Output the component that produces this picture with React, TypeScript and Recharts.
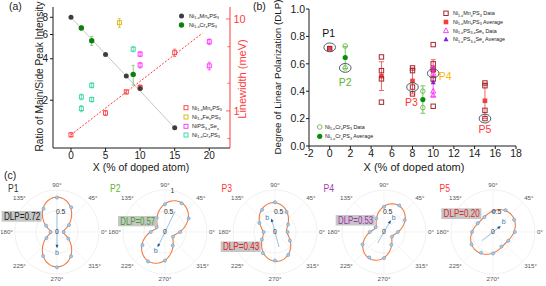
import React from 'react';
import { ComposedChart, Scatter, Line, XAxis, YAxis, ErrorBar, Legend } from 'recharts';

const FONT = '"Liberation Sans", Arial, Helvetica, sans-serif';
const RED = '#ff3b3b';
const INK = '#1a1a1a';

// ---------- (a) main/side peak ratio (left, log) and PL linewidth (right, log) ----------
const mnDoping = [0, 5, 8, 10, 15];
const mnPeakRatio = [8.0, 4.3, 3.0, 2.43, 1.26];
const crDoping = [1.5, 3, 9];
const crPeakRatio = [6.7, 5.4, 3.08];
const crPeakRatioErr = [0.25, 0.4, 0.5];
const ratioFitX = [0, 15];
const ratioFitY = [8.0, 1.26];

const mnLinewidth = [0.55, 0.95, 1.61, 1.8, 4.3];
const mnLinewidthErr = [0.03, 0.06, 0.08, 0.12, 0.4];
const feDoping = [7];
const feLinewidth = [9.1];
const feLinewidthErr = [1.0];
const seDoping = [10, 10, 20, 20];
const seLinewidth = [4.15, 3.15, 5.66, 3.09];
const seLinewidthErr = [0.25, 0.22, 0.4, 0.3];
const crLwDoping = [1.5, 1.5, 3, 3, 9];
const crLinewidth = [1.42, 1.06, 1.9, 1.33, 4.7];
const crLinewidthErr = [0.1, 0.08, 0.12, 0.08, 0.3];
const lwTrendX = [0, 19];
const lwTrendY = [0.55, 7.0];

const dopingTicksA = [0, 5, 10, 15, 20];
const ratioTicks = [2, 4, 6, 8];
const lwTicks = [0.5, 0.6, 0.7, 0.8, 0.9, 1, 2, 3, 4, 5, 6, 7, 8, 9, 10];

// ---------- (b) degree of linear polarization ----------
const mnDlpX = [0, 5, 5, 5, 5, 8, 8, 8, 8, 10, 10, 10, 10, 10, 15, 15, 15, 15];
const mnDlp = [0.71, 0.65, 0.55, 0.49, 0.32, 0.57, 0.55, 0.43, 0.38, 0.74, 0.6, 0.56, 0.49, 0.29, 0.46, 0.44, 0.26, 0.2];
const mnAvgX = [0, 5, 8, 10, 15];
const mnAvgDlp = [0.715, 0.51, 0.475, 0.55, 0.33];
const mnAvgErr = [0, 0.105, 0.095, 0.08, 0.13];
const seDlpX = [10, 10, 10, 10];
const seDlp = [0.57, 0.53, 0.4, 0.37];
const seAvgX = [10];
const seAvgDlp = [0.465];
const seAvgErr = [0.105];
const crDlpX = [1.5, 1.5, 9, 9];
const crDlp = [0.73, 0.57, 0.4, 0.28];
const crAvgX = [1.5, 9];
const crAvgDlp = [0.646, 0.339];
const crAvgErr = [0.08, 0.1];
const highlightX = [0, 1.5, 8, 10, 15];
const dopingTicksB = [-2, 0, 2, 4, 6, 8, 10, 12, 14, 16, 18];
const dlpTicks = [0, 0.2, 0.4, 0.6, 0.8, 1.0];

// ---------- (c) polar PL intensity ----------
const polarNames = ['P1', 'P2', 'P3', 'P4', 'P5'];
const polarDlp = [0.72, 0.57, 0.43, 0.53, 0.2];
const fitAxisDeg = [90, 62, 95, 62, 45];
const fitPeak = [0.83, 0.8, 0.7, 0.72, 0.6];
const sampleAngles = [0, 30, 60, 90, 120, 150, 180, 210, 240, 270, 300, 330];
const intensityP1 = [0.16, 0.33, 0.68, 0.82, 0.64, 0.3, 0.15, 0.29, 0.66, 0.84, 0.67, 0.31];
const intensityP2 = [0.36, 0.65, 0.79, 0.66, 0.39, 0.23, 0.34, 0.62, 0.81, 0.68, 0.37, 0.22];
const intensityP3 = [0.3, 0.36, 0.55, 0.71, 0.61, 0.43, 0.27, 0.36, 0.58, 0.68, 0.63, 0.41];
const intensityP4 = [0.33, 0.57, 0.73, 0.6, 0.37, 0.23, 0.34, 0.59, 0.7, 0.62, 0.35, 0.22];
const intensityP5 = [0.52, 0.58, 0.6, 0.49, 0.41, 0.42, 0.5, 0.59, 0.57, 0.51, 0.4, 0.42];
const intensities = [intensityP1, intensityP2, intensityP3, intensityP4, intensityP5];
const bAxisDeg = [270, 244, 105, 60, 38];
const bHeadR = [0.35, 0.37, 0.3, 0.29, 0.2];
const bTailR = [0.45, 0.55, 0.37, 0.3, 0.34];
const thetaTicks = [0, 45, 90, 135, 180, 225, 270, 315];

// ---------- styling / layout ----------
const pColors = ['#111111', '#5cb531', '#ff3636', '#ffb400', '#ff3636'];
const pTitleColors = ['#333333', '#5cb531', '#ff3636', '#a23bb5', '#ff3636'];
const dlpTextColors = ['#222222', '#3f9f2a', '#e02222', '#a030b0', '#dd2a2a'];
const pLabelOffset = [[-1, -14], [0, 14], [-1, 15], [12, 3], [0, 10.5]];
const bLabelOffset = [[0, 6], [-2.5, 4.5], [-4.5, -2], [3.5, -3.5], [4, -5]];
const polarCx = [57, 165, 275, 384, 493];
const polarCy = 232;
const POLAR_PX = 42;
const POLAR_BOX = 112;
const pTitleX = [8, 110, 221.5, 323.5, 439.5];
const dlpBox = [
  [1.7, 211, 40, 10.7],
  [118, 216, 38.7, 10.3],
  [220.7, 241.5, 40, 10.5],
  [335.7, 215, 39, 10.5],
  [441.3, 208.3, 40, 10.7],
];

const pts = (xs: number[], ys: number[], es?: number[]) =>
  xs.map((x, i) => ({ x, y: ys[i], e: es ? es[i] : 0 }));

// chemical formula with subscripts: "Ni_{1-x}Mn_{x}PS_{3}"
function Formula({ text, x, y, size, fill }: any) {
  const parts = text.split(/(_\{[^}]*\})/).filter((s: string) => s.length > 0);
  const sh = size * 0.3;
  let low = false;
  return (
    <text x={x} y={y} fontSize={size} fill={fill} fontFamily={FONT}>
      {parts.map((p: string, k: number) => {
        if (p.startsWith('_{')) {
          const el = (
            <tspan key={k} dy={low ? 0 : sh} fontSize={size * 0.68}>
              {p.slice(2, -1)}
            </tspan>
          );
          low = true;
          return el;
        }
        const el = (
          <tspan key={k} dy={low ? -sh : 0} fontSize={size}>
            {p}
          </tspan>
        );
        low = false;
        return el;
      })}
    </text>
  );
}

// marker shapes
const MDot = ({ cx, cy, r, fill, stroke }: any) => (
  <circle cx={cx} cy={cy} r={r} fill={fill} stroke={stroke || 'none'} strokeWidth={0.9} />
);
const MSquare = ({ cx, cy, s, fill, stroke, sw }: any) => (
  <rect x={cx - s / 2} y={cy - s / 2} width={s} height={s} fill={fill || 'none'} stroke={stroke || 'none'} strokeWidth={sw || 1} />
);
const MTri = ({ cx, cy, s, fill, stroke }: any) => {
  const h = s * 0.9;
  return (
    <polygon
      points={`${cx},${cy - h * 0.62} ${cx - s / 2},${cy + h * 0.42} ${cx + s / 2},${cy + h * 0.42}`}
      fill={fill || 'none'}
      stroke={stroke || 'none'}
      strokeWidth={0.9}
    />
  );
};

const RedLogTick = (props: any) => {
  const { x, y, payload } = props;
  const v = payload.value;
  const major = Math.abs(v - 1) < 1e-9 || Math.abs(v - 10) < 1e-9;
  return (
    <g>
      <line x1={x - 3} x2={x - 3 - (major ? 4 : 2.5)} y1={y} y2={y} stroke={RED} strokeWidth={0.8} />
      {major ? (
        <text x={x + 0.5} y={y} dy="0.36em" fontSize={11} fill={RED} fontFamily={FONT}>
          {v}
        </text>
      ) : null}
    </g>
  );
};

const legendA = () => (
  <svg width={262} height={176} style={{ display: 'block', overflow: 'visible' }}>
    <MDot cx={181.5} cy={16} r={2.5} fill="#3d3d3d" />
    <Formula text="Ni_{1-x}Mn_{x}PS_{3}" x={189} y={17.8} size={5.6} fill={INK} />
    <MDot cx={181.5} cy={25} r={2.7} fill="#0d7f0d" />
    <Formula text="Ni_{1-x}Cr_{x}PS_{3}" x={189} y={26.8} size={5.6} fill={INK} />
    <MSquare cx={186} cy={107.7} s={4} stroke={RED} sw={0.9} />
    <Formula text="Ni_{1-x}Mn_{x}PS_{3}" x={192} y={109.5} size={5.6} fill={INK} />
    <MSquare cx={186} cy={117} s={4} stroke="#d8b400" sw={0.9} />
    <Formula text="Ni_{1-x}Fe_{x}PS_{3}" x={192} y={118.8} size={5.6} fill={INK} />
    <MSquare cx={186} cy={126.3} s={4} stroke="#ff2cff" sw={0.9} />
    <Formula text="NiPS_{3-x}Se_{x}" x={192} y={128.1} size={5.6} fill={INK} />
    <MSquare cx={186} cy={135} s={4} stroke="#2fd6a0" sw={0.9} />
    <Formula text="Ni_{1-x}Cr_{x}PS_{3}" x={192} y={136.8} size={5.6} fill={INK} />
  </svg>
);

const legendB = () => (
  <svg width={273} height={174} style={{ display: 'block', overflow: 'visible' }}>
    <MSquare cx={173} cy={13.3} s={4.4} stroke="#a3292f" sw={1} />
    <Formula text="Ni_{1-x}Mn_{x}PS_{3} Data" x={180} y={15.1} size={5.4} fill={INK} />
    <MSquare cx={173} cy={22} s={4.6} fill="#f23d3d" />
    <Formula text="Ni_{1-x}Mn_{x}PS_{3} Average" x={180} y={23.8} size={5.4} fill={INK} />
    <MTri cx={173} cy={30.7} s={5} stroke="#ff2cff" />
    <Formula text="Ni_{1-x}PS_{3-x}Se_{x} Data" x={180} y={32.5} size={5.4} fill={INK} />
    <MTri cx={173} cy={39.3} s={5} fill="#7b22e8" />
    <Formula text="Ni_{1-x}PS_{3-x}Se_{x} Average" x={180} y={41.1} size={5.4} fill={INK} />
    <MDot cx={46.7} cy={127} r={2.3} fill="none" stroke="#69b94a" />
    <Formula text="Ni_{1-x}Cr_{x}PS_{3} Data" x={52} y={128.8} size={5.4} fill={INK} />
    <MDot cx={46.7} cy={136.3} r={2.6} fill="#0e8a0e" />
    <Formula text="Ni_{1-x}Cr_{x}PS_{3} Average" x={52} y={138.1} size={5.4} fill={INK} />
  </svg>
);

function ChartA() {
  return (
    <ComposedChart width={262} height={176} margin={{ top: 7, right: 0, bottom: 0, left: 0 }}>
      <XAxis
        type="number"
        dataKey="x"
        domain={[-2.6, 23]}
        ticks={dopingTicksA}
        allowDataOverflow
        height={28}
        tickSize={3}
        tickMargin={1}
        stroke={INK}
        tick={{ fontSize: 10, fill: INK, fontFamily: FONT }}
      />
      <XAxis xAxisId="top" orientation="top" type="number" dataKey="x" domain={[-2.6, 23]} allowDataOverflow height={0} tick={false} tickLine={false} stroke={INK} />
      <YAxis
        yAxisId="ratio"
        type="number"
        dataKey="y"
        scale="log"
        domain={[0.9, 9.5]}
        allowDataOverflow
        ticks={ratioTicks}
        width={53}
        tickSize={3}
        tickMargin={2}
        stroke={INK}
        tick={{ fontSize: 10, fill: INK, fontFamily: FONT }}
      />
      <YAxis
        yAxisId="lw"
        orientation="right"
        type="number"
        dataKey="y"
        scale="log"
        domain={[0.395, 13.5]}
        allowDataOverflow
        ticks={lwTicks}
        width={32}
        tickSize={0}
        tickMargin={3}
        tickLine={false}
        stroke={RED}
        tick={RedLogTick}
      />
      <Line yAxisId="ratio" data={pts(ratioFitX, ratioFitY)} dataKey="y" stroke="#b8b8b8" strokeWidth={0.8} dot={false} isAnimationActive={false} />
      <Line yAxisId="lw" data={pts(lwTrendX, lwTrendY)} dataKey="y" stroke={RED} strokeWidth={1} strokeDasharray="2 1.6" dot={false} isAnimationActive={false} />
      <Scatter yAxisId="lw" data={pts(mnDoping, mnLinewidth, mnLinewidthErr)} dataKey="y" isAnimationActive={false} shape={(p: any) => <MSquare cx={p.cx} cy={p.cy} s={4} stroke={RED} sw={0.9} />}>
        <ErrorBar dataKey="e" direction="y" width={1.5} stroke={RED} strokeWidth={0.7} />
      </Scatter>
      <Scatter yAxisId="lw" data={pts(feDoping, feLinewidth, feLinewidthErr)} dataKey="y" isAnimationActive={false} shape={(p: any) => <MSquare cx={p.cx} cy={p.cy} s={4} stroke="#d8b400" sw={0.9} />}>
        <ErrorBar dataKey="e" direction="y" width={1.5} stroke="#d8b400" strokeWidth={0.7} />
      </Scatter>
      <Scatter yAxisId="lw" data={pts(seDoping, seLinewidth, seLinewidthErr)} dataKey="y" isAnimationActive={false} shape={(p: any) => <MSquare cx={p.cx} cy={p.cy} s={4} stroke="#ff2cff" sw={0.9} />}>
        <ErrorBar dataKey="e" direction="y" width={1.5} stroke="#ff2cff" strokeWidth={0.7} />
      </Scatter>
      <Scatter yAxisId="lw" data={pts(crLwDoping, crLinewidth, crLinewidthErr)} dataKey="y" isAnimationActive={false} shape={(p: any) => <MSquare cx={p.cx} cy={p.cy} s={4} stroke="#2fd6a0" sw={0.9} />}>
        <ErrorBar dataKey="e" direction="y" width={1.5} stroke="#2fd6a0" strokeWidth={0.7} />
      </Scatter>
      <Scatter yAxisId="ratio" data={pts(mnDoping, mnPeakRatio)} dataKey="y" isAnimationActive={false} shape={(p: any) => <MDot cx={p.cx} cy={p.cy} r={2.5} fill="#3d3d3d" />} />
      <Scatter yAxisId="ratio" data={pts(crDoping, crPeakRatio, crPeakRatioErr)} dataKey="y" isAnimationActive={false} shape={(p: any) => <MDot cx={p.cx} cy={p.cy} r={2.7} fill="#0d7f0d" />}>
        <ErrorBar dataKey="e" direction="y" width={1.5} stroke="#6cc36c" strokeWidth={0.8} />
      </Scatter>
      <Legend layout="vertical" align="center" verticalAlign="middle" content={legendA} wrapperStyle={{ left: 0, top: 0, width: 262, height: 176, pointerEvents: 'none' }} />
    </ComposedChart>
  );
}

function ChartB() {
  const highlight = highlightX.map((x, i) => ({ x, y: polarDlp[i], i }));
  return (
    <ComposedChart width={273} height={174} margin={{ top: 9, right: 30, bottom: 0, left: 0 }}>
      <XAxis
        type="number"
        dataKey="x"
        domain={[-2, 18]}
        ticks={dopingTicksB}
        allowDataOverflow
        height={28}
        tickSize={3}
        tickMargin={1}
        stroke={INK}
        tick={{ fontSize: 10.5, fill: INK, fontFamily: FONT }}
      />
      <XAxis xAxisId="top" orientation="top" type="number" dataKey="x" domain={[-2, 18]} allowDataOverflow height={0} tick={false} tickLine={false} stroke={INK} />
      <YAxis
        type="number"
        dataKey="y"
        domain={[0, 1]}
        allowDataOverflow
        ticks={dlpTicks}
        tickFormatter={(v: number) => v.toFixed(1)}
        width={36}
        tickSize={3}
        tickMargin={1}
        stroke={INK}
        tick={{ fontSize: 10.5, fill: INK, fontFamily: FONT }}
      />
      <YAxis yAxisId="right" orientation="right" type="number" dataKey="y" domain={[0, 1]} width={0} tick={false} tickLine={false} stroke={INK} />
      <Scatter data={pts(mnAvgX, mnAvgDlp, mnAvgErr)} dataKey="y" isAnimationActive={false} shape={(p: any) => <MSquare cx={p.cx} cy={p.cy} s={4.6} fill="#f23d3d" />}>
        <ErrorBar dataKey="e" direction="y" width={2.5} stroke="#f25555" strokeWidth={0.9} />
      </Scatter>
      <Scatter data={pts(seAvgX, seAvgDlp, seAvgErr)} dataKey="y" isAnimationActive={false} shape={(p: any) => <MTri cx={p.cx} cy={p.cy} s={5} fill="#7b22e8" />}>
        <ErrorBar dataKey="e" direction="y" width={2.5} stroke="#ff44ff" strokeWidth={0.9} />
      </Scatter>
      <Scatter data={pts(crAvgX, crAvgDlp, crAvgErr)} dataKey="y" isAnimationActive={false} shape={(p: any) => <MDot cx={p.cx} cy={p.cy} r={2.6} fill="#0e8a0e" />}>
        <ErrorBar dataKey="e" direction="y" width={2.5} stroke="#6cbf4f" strokeWidth={0.9} />
      </Scatter>
      <Scatter data={pts(mnDlpX, mnDlp)} dataKey="y" isAnimationActive={false} shape={(p: any) => <MSquare cx={p.cx} cy={p.cy} s={4.4} stroke="#a3292f" sw={1} />} />
      <Scatter data={pts(seDlpX, seDlp)} dataKey="y" isAnimationActive={false} shape={(p: any) => <MTri cx={p.cx} cy={p.cy} s={5} stroke="#ff2cff" />} />
      <Scatter data={pts(crDlpX, crDlp)} dataKey="y" isAnimationActive={false} shape={(p: any) => <MDot cx={p.cx} cy={p.cy} r={2.3} fill="none" stroke="#69b94a" />} />
      <Scatter
        data={highlight}
        dataKey="y"
        isAnimationActive={false}
        shape={(p: any) => {
          const i = p.payload.i;
          return (
            <g>
              <ellipse cx={p.cx} cy={p.cy} rx={5.8} ry={4.4} fill="none" stroke="#3b4a5e" strokeWidth={0.9} />
              <text x={p.cx + pLabelOffset[i][0]} y={p.cy + pLabelOffset[i][1]} dy="0.36em" textAnchor="middle" fontSize={10.5} fill={pColors[i]} fontFamily={FONT}>
                {polarNames[i]}
              </text>
            </g>
          );
        }}
      />
      <Legend layout="vertical" align="center" verticalAlign="middle" content={legendB} wrapperStyle={{ left: 0, top: 0, width: 273, height: 174, pointerEvents: 'none' }} />
    </ComposedChart>
  );
}

const polarXY = (deg: number, r: number) => {
  const t = (deg * Math.PI) / 180;
  return { x: r * Math.cos(t), y: r * Math.sin(t) };
};

function PolarPanel({ i }: { i: number }) {
  const half = POLAR_BOX / 2 / POLAR_PX;
  const phi = fitAxisDeg[i];
  const peak = fitPeak[i];
  const low = (peak * (1 - polarDlp[i])) / (1 + polarDlp[i]);
  const fit: { x: number; y: number }[] = [];
  for (let a = 0; a <= 360; a += 3) {
    const c = Math.cos(((a - phi) * Math.PI) / 180);
    fit.push(polarXY(a, low + (peak - low) * c * c));
  }
  const rings = [0.5, 1].map((r) => {
    const ring: { x: number; y: number }[] = [];
    for (let a = 0; a <= 360; a += 4) ring.push(polarXY(a, r));
    return ring;
  });
  const spokes = [0, 45, 90, 135].map((a) => [polarXY(a, 1), polarXY(a + 180, 1)]);
  const dots = sampleAngles.map((a, k) => polarXY(a, intensities[i][k]));
  const bLine = [polarXY(bAxisDeg[i] + 180, bTailR[i]), polarXY(bAxisDeg[i], bHeadR[i])];
  const bHead = [{ ...polarXY(bAxisDeg[i], bHeadR[i]), deg: bAxisDeg[i] }];
  const rLabels = [0, 0.5, ...(i === 1 ? [1] : [])].map((r) => ({ ...polarXY(80, r), text: String(r) }));
  const thetaLabels = thetaTicks.map((a) => ({ ...polarXY(a, 1.05), a, text: `${a}°` }));

  return (
    <ComposedChart width={POLAR_BOX} height={POLAR_BOX} margin={{ top: 0, right: 0, bottom: 0, left: 0 }}>
      <XAxis type="number" dataKey="x" domain={[-half, half]} allowDataOverflow hide />
      <YAxis type="number" dataKey="y" domain={[-half, half]} allowDataOverflow hide />
      {rings.map((ring, k) => (
        <Line key={`ring${k}`} data={ring} dataKey="y" stroke="#e6e6e6" strokeWidth={0.6} dot={false} isAnimationActive={false} />
      ))}
      {spokes.map((sp, k) => (
        <Line key={`spoke${k}`} data={sp} dataKey="y" stroke="#ececec" strokeWidth={0.6} dot={false} isAnimationActive={false} />
      ))}
      <Line data={fit} dataKey="y" stroke="#ee7c44" strokeWidth={1.1} dot={false} isAnimationActive={false} />
      <Line data={bLine} dataKey="y" stroke="#7ab2da" strokeWidth={0.8} dot={false} isAnimationActive={false} />
      <Scatter data={dots} dataKey="y" isAnimationActive={false} shape={(p: any) => <circle cx={p.cx} cy={p.cy} r={1.6} fill="#a9cce6" stroke="#5d91c0" strokeWidth={0.5} />} />
      <Scatter
        data={bHead}
        dataKey="y"
        isAnimationActive={false}
        shape={(p: any) => {
          const t = (p.payload.deg * Math.PI) / 180;
          const ux = Math.cos(t);
          const uy = -Math.sin(t);
          const tipX = p.cx + ux * 1.5;
          const tipY = p.cy + uy * 1.5;
          const bx = p.cx - ux * 2;
          const by = p.cy - uy * 2;
          return (
            <g>
              <polygon points={`${tipX},${tipY} ${bx - uy * 1.5},${by + ux * 1.5} ${bx + uy * 1.5},${by - ux * 1.5}`} fill="#1f4f7a" />
              <text x={p.cx + bLabelOffset[i][0]} y={p.cy + bLabelOffset[i][1]} dy="0.36em" textAnchor="middle" fontSize={7} fill="#3a78b0" fontFamily={FONT}>
                b
              </text>
            </g>
          );
        }}
      />
      <Scatter
        data={rLabels}
        dataKey="y"
        isAnimationActive={false}
        shape={(p: any) => (
          <text x={p.cx} y={p.cy} dy="0.36em" textAnchor="middle" fontSize={6.8} fill="#333" fontFamily={FONT}>
            {p.payload.text}
          </text>
        )}
      />
      <Scatter
        data={thetaLabels}
        dataKey="y"
        isAnimationActive={false}
        shape={(p: any) => {
          const t = (p.payload.a * Math.PI) / 180;
          const c = Math.cos(t);
          const s = Math.sin(t);
          const anchor = c > 0.3 ? 'start' : c < -0.3 ? 'end' : 'middle';
          const dy = s > 0.3 ? '-0.1em' : s < -0.3 ? '0.75em' : '0.36em';
          return (
            <text x={p.cx} y={p.cy} dy={dy} textAnchor={anchor} fontSize={6.2} fill="#555" fontFamily={FONT}>
              {p.payload.text}
            </text>
          );
        }}
      />
    </ComposedChart>
  );
}

export default function App() {
  return (
    <div style={{ position: 'absolute', left: 0, top: 0, width: 546, height: 286, overflow: 'hidden', background: '#fff', fontFamily: FONT }}>
      <div style={{ position: 'absolute', left: 0, top: 0 }}>
        <ChartA />
      </div>
      <div style={{ position: 'absolute', left: 273, top: 0 }}>
        <ChartB />
      </div>
      {polarNames.map((_, i) => (
        <div key={i} style={{ position: 'absolute', left: polarCx[i] - POLAR_BOX / 2, top: polarCy - POLAR_BOX / 2 }}>
          <PolarPanel i={i} />
        </div>
      ))}
      <svg width={546} height={286} style={{ position: 'absolute', left: 0, top: 0, pointerEvents: 'none' }} fontFamily={FONT}>
        <text x={9} y={9.5} fontSize={10.5} fill="#222">(a)</text>
        <text x={253} y={9.5} fontSize={10.5} fill="#222">(b)</text>
        <text x={4} y={178.5} fontSize={10.5} fill="#222">(c)</text>
        <text transform="translate(43,76.5) rotate(-90)" textAnchor="middle" fontSize={10.2} fill={INK}>
          Ratio of Main/Side Peak Intensity
        </text>
        <text transform="translate(246,79) rotate(-90)" textAnchor="middle" fontSize={11} fill={RED}>
          Linewidth (meV)
        </text>
        <text x={141} y={171} textAnchor="middle" fontSize={10.5} fill={INK}>
          X (% of doped atom)
        </text>
        <text transform="translate(280.5,77) rotate(-90)" textAnchor="middle" fontSize={9.8} fill={INK}>
          Degree of Linear Polarization (DLP)
        </text>
        <text x={414} y={171} textAnchor="middle" fontSize={11} fill={INK}>
          X (% of doped atom)
        </text>
        {polarNames.map((n, i) => (
          <text key={`t${i}`} x={pTitleX[i]} y={191.5} fontSize={11} fill={pTitleColors[i]} textLength={10.5} lengthAdjust="spacingAndGlyphs">
            {n}
          </text>
        ))}
        {dlpBox.map((b, i) => (
          <g key={`d${i}`}>
            <rect x={b[0]} y={b[1]} width={b[2]} height={b[3]} fill="#c6c6c6" />
            <text x={b[0] + 2.3} y={b[1] + b[3] - 1.8} fontSize={10.5} fill={dlpTextColors[i]} textLength={b[2] - 3.8} lengthAdjust="spacingAndGlyphs">
              {`DLP=${polarDlp[i].toFixed(2)}`}
            </text>
          </g>
        ))}
      </svg>
    </div>
  );
}
